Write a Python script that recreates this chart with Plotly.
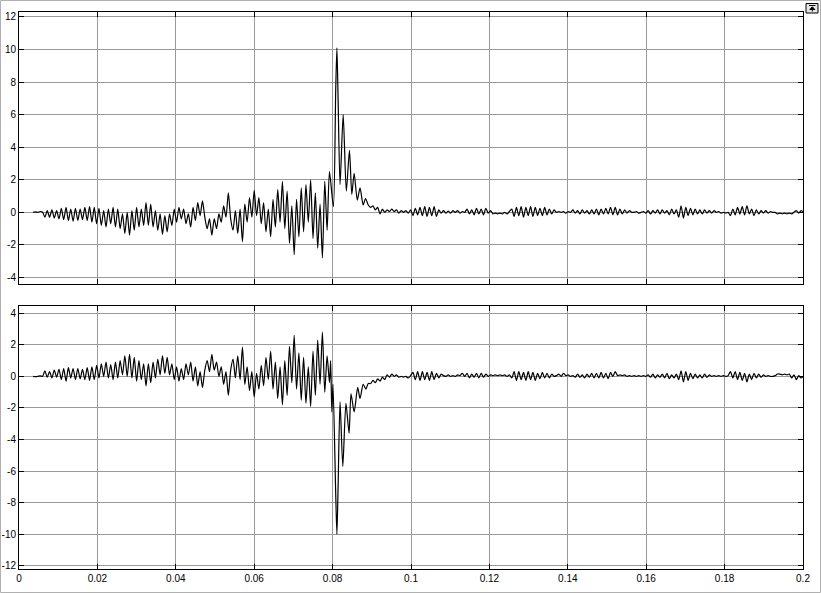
import numpy as np
import plotly.graph_objects as go
from plotly.subplots import make_subplots

# ---------------- data ----------------
DT = 0.0006
# top signal, segment A (uniform sampling from 0.0036 s)
top_a_t0 = 0.0036
top_a = [0.0, 0.03, 0.0, 0.05, 0.02,
         -0.3, 0.1, -0.3, 0.15, -0.35, 0.1, -0.4, 0.25, -0.45, 0.3, -0.5, 0.2, -0.55, 0.25, -0.5, 0.2,
         -0.45, 0.3, -0.5, 0.35, -0.6, 0.3, -0.7,
         0.25, -0.8, 0.1, -0.9, 0.2, -0.7, 0.3, -0.9, 0.2, -1.0,
         -0.1, -1.3, 0.0, -1.4, 0.1, -1.1, 0.3, -0.9, 0.2, -0.8,
         0.6, -0.8, 0.5, -0.9, 0.1, -1.1, -0.1, -1.35, -0.2, -1.2,
         -0.1, -0.8, 0.2, -0.6, 0.3, -0.4, 0.2, -0.7, -0.1, -0.9,
         0.3, -0.5, 0.6, -0.2, 0.7, -0.3,
         -1.0, -0.4, -1.4, -0.4, -1.0, -0.1, -0.6, 0.4, -0.3, 1.2,
         -0.4, -1.1, 0.1, -1.3, 0.2, -1.8, 0.5, -0.6, 0.9, -0.3,
         1.35, -0.2, 0.9, -0.7, 0.6, -1.2, 0.2, -1.5, 0.8, -0.9,
         1.4, -0.6, 1.9, -1.0, 1.3, -1.9, 0.4, -2.6, 0.8, -1.5,
         1.5, -1.2, 1.7, -0.6, 2.0, -1.6, 1.2, -2.2, 0.5, -2.8,
         1.9, -1.1, 2.5]
# top signal, segment B (spike, explicit times)
top_b_t = [0.0802, 0.0808, 0.0811, 0.0814, 0.0819, 0.0827, 0.0835, 0.0843, 0.0849,
           0.0855, 0.0863, 0.0870, 0.0878, 0.0884, 0.0891]
top_b = [0.35, 7.6, 10.1, 7.0, 1.7, 6.0, 1.3, 3.8, 1.1, 2.4, 0.75, 1.5, 0.45, 0.85, 0.45]
# top signal, segment C (uniform sampling from 0.0897 s)
top_c_t0 = 0.0897
top_c = [0.3, 0.4, 0.15, 0.3, -0.1, 0.2, 0.0, 0.15, 0.05, 0.2, 0.05, 0.15, -0.05,
         0.1, 0.0, 0.1, -0.05, 0.15,
         -0.2, 0.25, -0.15, 0.3, -0.2, 0.35, -0.25, 0.3, -0.2, 0.35, -0.25, 0.15, -0.05,
         0.1, -0.05, 0.08, -0.05, 0.1, 0.0, 0.1, -0.05, 0.05, 0.0,
         0.2, -0.1, 0.15, -0.15, 0.25, -0.1, 0.2, -0.15, 0.25, -0.05, 0.1,
         -0.1, -0.05, -0.1, -0.05, -0.1, 0.0, -0.1, 0.05,
         0.2, -0.25, 0.3, -0.2, 0.35, -0.3, 0.3, -0.2, 0.35, -0.25, 0.3, -0.2, 0.25, -0.2, 0.3, -0.15, 0.2, -0.1, 0.15,
         0.0, 0.05, 0.0, 0.05, -0.05, 0.05, 0.0,
         0.15, -0.05, 0.1, -0.1, 0.15, -0.05, 0.1,
         -0.1, 0.15, -0.1, 0.2, -0.15, 0.2, -0.1, 0.25, -0.1, 0.3, -0.15, 0.3, -0.15, 0.2, -0.1, 0.15, -0.05, 0.1,
         0.0, 0.0, 0.05, -0.05, 0.0, 0.05, -0.05,
         0.1, -0.1, 0.1, -0.05, 0.15, -0.1, 0.15, -0.05, 0.1, -0.15, 0.2, -0.1, 0.15, -0.3,
         0.4, -0.35, 0.3, -0.2, 0.25, -0.15,
         0.2, -0.1, 0.15, -0.1, 0.15, -0.05, 0.1, -0.05, 0.1, 0.0, 0.05,
         -0.05, 0.0, -0.05, 0.0,
         -0.2, 0.2, -0.15, 0.3, -0.1, 0.35, -0.15, 0.4, -0.1, 0.2,
         -0.2, 0.15, -0.1, 0.1, -0.05, 0.1, -0.05, 0.05, 0.0, 0.0,
         -0.1, -0.05, -0.1, -0.05, -0.1, -0.05, -0.1, 0.0, 0.1, -0.05, 0.1, 0.0]

# bottom signal
bot_a_t0 = 0.0036
bot_a = [0.0, -0.02, 0.0, 0.04, 0.0,
         0.35, -0.05, 0.3, -0.1, 0.4, -0.05, 0.45, -0.2, 0.5, -0.3, 0.55, -0.1, 0.5, -0.2, 0.5, -0.15,
         0.45, -0.2, 0.55, -0.25, 0.6, -0.2, 0.7,
         -0.1, 0.8, 0.0, 0.9, -0.1, 0.75, -0.2, 0.9, -0.1, 1.0,
         0.1, 1.3, 0.0, 1.4, -0.1, 1.2, -0.3, 1.0, -0.2, 0.8,
         -0.6, 0.8, -0.4, 0.9, -0.1, 1.1, 0.1, 1.3, 0.2, 1.2,
         0.1, 0.8, -0.2, 0.6, -0.3, 0.5, -0.2, 0.8, 0.1, 0.9,
         -0.3, 0.6, -0.6, 0.3, -0.7, 0.4,
         1.0, 0.3, 1.4, 0.4, 0.9, 0.0, 0.6, -0.5, 0.3, -1.2,
         0.4, 1.1, -0.1, 1.3, -0.2, 1.85, -0.5, 0.6, -0.9, 0.3,
         -1.3, 0.2, -0.8, 0.7, -0.6, 1.2, -0.2, 1.6, -0.8, 0.9,
         -1.4, 0.6, -1.8, 1.0, -1.2, 1.9, -0.4, 2.6, -0.8, 1.5,
         -1.5, 1.2, -1.7, 0.6, -1.9, 1.6, -1.2, 2.3, -0.5, 2.8,
         -1.0, 1.3, -0.4]
bot_b_t = [0.0795, 0.0798, 0.0801, 0.0808, 0.0811, 0.0814, 0.0819, 0.0826, 0.0834,
           0.0842, 0.0847, 0.0855, 0.0864, 0.0870, 0.0878, 0.0885, 0.0891]
bot_b = [1.0, -2.25, -0.5, -7.5, -10.0, -7.0, -1.6, -5.7, -1.7, -3.6, -1.1, -2.25,
         -0.7, -1.4, -0.5, -0.8, -0.45]
bot_c_t0 = 0.0897
bot_c = [-0.45, -0.25, -0.4, -0.15, -0.3, -0.05, -0.2, 0.1, -0.05, 0.15, 0.0, 0.1, -0.05,
         0.0, -0.05, 0.0, -0.1, 0.05,
         0.25, -0.2, 0.3, -0.25, 0.3, -0.2, 0.25, -0.25, 0.3, -0.2, 0.2, -0.1, 0.15,
         0.05, 0.0, 0.1, 0.0, 0.05, 0.0, 0.1, 0.05, 0.2, 0.0,
         0.2, -0.1, 0.15, -0.05, 0.2, -0.1, 0.2, -0.05, 0.15, 0.0, 0.1,
         0.05, 0.1, 0.05, 0.1, 0.05, 0.1, 0.0, 0.1,
         -0.1, 0.3, -0.25, 0.3, -0.2, 0.25, -0.25, 0.3, -0.2, 0.25, -0.25, 0.2, -0.15, 0.25, -0.1, 0.2, -0.1, 0.15, 0.0,
         0.05, 0.15, 0.0, 0.2, 0.05, 0.1, 0.0,
         0.05, -0.05, 0.15, -0.05, 0.1, -0.1, 0.15,
         -0.05, 0.2, -0.1, 0.2, -0.1, 0.25, -0.1, 0.2, -0.15, 0.25, 0.0, 0.3, 0.05, 0.1, 0.05, 0.1, 0.0, 0.05,
         0.0, 0.05, 0.0, 0.05, 0.0, 0.05, 0.0,
         0.1, -0.05, 0.15, -0.1, 0.1, -0.05, 0.15, -0.1, 0.2, -0.15, 0.1, -0.1, 0.15, -0.2,
         0.35, -0.35, 0.3, -0.25, 0.2, -0.15,
         0.15, -0.1, 0.1, -0.1, 0.15, -0.05, 0.1, 0.0, 0.05, 0.0, 0.05,
         0.0, 0.05, 0.0, 0.05,
         0.3, -0.1, 0.3, -0.2, 0.25, -0.25, 0.2, -0.35, 0.15, -0.2,
         0.2, -0.1, 0.15, -0.05, 0.1, 0.0, 0.05, 0.0, 0.0, 0.05,
         0.15, 0.15, 0.1, 0.15, 0.1, 0.15, -0.1, 0.1, -0.2, 0.05, -0.1, 0.0]

x_ticks = [0, 0.02, 0.04, 0.06, 0.08, 0.1, 0.12, 0.14, 0.16, 0.18, 0.2]
x_tick_text = ["0", "0.02", "0.04", "0.06", "0.08", "0.1", "0.12", "0.14", "0.16", "0.18", "0.2"]
top_yticks = [12, 10, 8, 6, 4, 2, 0, -2, -4]
bot_yticks = [4, 2, 0, -2, -4, -6, -8, -10, -12]


def build(t0a, a, tb, b, t0c, c):
    ta = t0a + DT * np.arange(len(a))
    tc = t0c + DT * np.arange(len(c))
    return np.concatenate([ta, tb, tc]), np.concatenate([a, b, c])


t_top, y_top = build(top_a_t0, top_a, top_b_t, top_b, top_c_t0, top_c)
t_bot, y_bot = build(bot_a_t0, bot_a, bot_b_t, bot_b, bot_c_t0, bot_c)

# ---------------- figure ----------------
W, H = 821, 593
ML, MR, MT, MB = 19, 18, 12, 24
PW, PH = W - ML - MR, H - MT - MB

fig = make_subplots(rows=2, cols=1, shared_xaxes=False, vertical_spacing=0.0)

line = dict(color="black", width=1.2, shape="spline", smoothing=0.7)
fig.add_trace(go.Scatter(x=t_top, y=y_top, mode="lines", line=line, showlegend=False,
                         hoverinfo="skip"), row=1, col=1)
fig.add_trace(go.Scatter(x=t_bot, y=y_bot, mode="lines", line=line, showlegend=False,
                         hoverinfo="skip"), row=2, col=1)

top_dom = [(H - MB - 284) / PH, 1.0]
bot_dom = [0.0, (H - MB - 306) / PH]

axis_common = dict(showgrid=True, gridcolor="#9a9a9a", gridwidth=1, zeroline=False,
                   showline=True, linecolor="black", linewidth=1, mirror="ticks",
                   ticks="inside", ticklen=5, tickcolor="black", automargin=False,
                   tickfont=dict(family="Liberation Sans, Arial", size=10, color="black"))

fig.update_layout(
    width=W, height=H,
    margin=dict(l=ML, r=MR, t=MT, b=MB, pad=0, autoexpand=False),
    paper_bgcolor="white", plot_bgcolor="white",
    showlegend=False,
    xaxis=dict(domain=[0, 1], range=[0, 0.2], tickvals=x_ticks, showticklabels=False,
               anchor="y", **axis_common),
    yaxis=dict(domain=top_dom, range=[-4.4, 12.3], tickvals=top_yticks,
               ticktext=[str(v) for v in top_yticks], anchor="x", **axis_common),
    xaxis2=dict(domain=[0, 1], range=[0, 0.2], tickvals=x_ticks, ticktext=x_tick_text,
                anchor="y2", **axis_common),
    yaxis2=dict(domain=bot_dom, range=[-12.2, 4.46], tickvals=bot_yticks,
                ticktext=[str(v) for v in bot_yticks], anchor="x2", **axis_common),
)


def px(xp):
    return (xp - ML) / PW


def py(yp):
    return (H - MB - yp) / PH


# window border (light gray)
fig.add_shape(type="rect", xref="paper", yref="paper",
              x0=px(0.5), x1=px(W - 0.5), y0=py(H - 0.5), y1=py(0.5),
              line=dict(color="#b0b0b0", width=1), fillcolor="rgba(0,0,0,0)", layer="below")
# restore button (top right)
fig.add_shape(type="rect", xref="paper", yref="paper",
              x0=px(806), x1=px(818), y0=py(13), y1=py(3.5),
              line=dict(color="black", width=1), fillcolor="#e6e6e6")
fig.add_shape(type="line", xref="paper", yref="paper",
              x0=px(809), x1=px(815.5), y0=py(5.5), y1=py(5.5),
              line=dict(color="black", width=1))
fig.add_shape(type="line", xref="paper", yref="paper",
              x0=px(812.3), x1=px(812.3), y0=py(7), y1=py(11.5),
              line=dict(color="black", width=1))
fig.add_shape(type="path", xref="paper", yref="paper",
              path=f"M {px(809.8)} {py(9.5)} L {px(812.3)} {py(6.8)} L {px(814.8)} {py(9.5)} Z",
              line=dict(color="black", width=1), fillcolor="black")

fig.write_html("out.html", config={"displayModeBar": False},
               post_script="document.body.style.margin='0';document.body.style.overflow='hidden';")
